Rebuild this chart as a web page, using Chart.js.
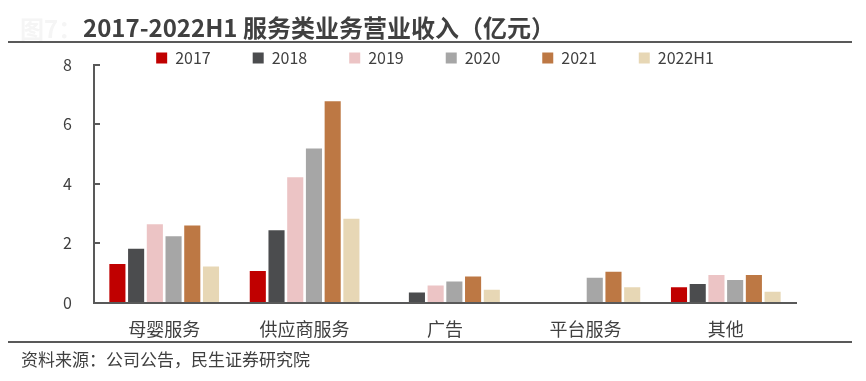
<!DOCTYPE html>
<html>
<head>
<meta charset="utf-8">
<script src="https://cdn.jsdelivr.net/npm/chart.js@4/dist/chart.umd.min.js"></script>
<style>
  html, body { margin: 0; padding: 0; background: #ffffff; }
  #wrap { position: relative; width: 866px; height: 381px; overflow: hidden; font-family: "Noto Sans CJK SC", sans-serif; }
  #chartBox { position: absolute; left: 0; top: 0; width: 866px; height: 381px; }
  .txt { position: absolute; white-space: nowrap; line-height: 1; }
  #ghost { left: 20px; top: 16px; font-size: 24px; font-weight: bold; color: #f5f5f5; }
  #title { left: 83px; top: 15px; font-size: 24px; font-weight: bold; color: #404040; }
  #footer { left: 21px; top: 350px; font-size: 17px; color: #404040; }
  .rule { position: absolute; left: 8px; width: 844px; height: 2px; background: #595959; }
</style>
</head>
<body>
<div id="wrap">
  <div id="chartBox"><canvas id="c"></canvas></div>
  <div class="txt" id="ghost">图7：</div>
  <div class="txt" id="title">2017-2022H1 服务类业务营业收入（亿元）</div>
  <div class="rule" style="top:41px"></div>
  <div class="rule" style="top:341px"></div>
  <div class="txt" id="footer">资料来源：公司公告，民生证券研究院</div>
</div>
<script>
const categories = ["母婴服务", "供应商服务", "广告", "平台服务", "其他"];
const seriesNames = ["2017", "2018", "2019", "2020", "2021", "2022H1"];
const series2017   = [1.30, 1.06, null, null, 0.51];
const series2018   = [1.81, 2.43, 0.34, null, 0.62];
const series2019   = [2.64, 4.22, 0.57, null, 0.93];
const series2020   = [2.23, 5.19, 0.71, 0.83, 0.76];
const series2021   = [2.59, 6.78, 0.88, 1.04, 0.93];
const series2022H1 = [1.21, 2.82, 0.43, 0.51, 0.36];
const yTicks = [0, 2, 4, 6, 8];

const seriesValues = [series2017, series2018, series2019, series2020, series2021, series2022H1];
const colors = ["#C00000", "#4B4C4E", "#ECC4C5", "#A6A6A6", "#BD7844", "#E7D7B5"];

const FONT = "'Noto Sans CJK SC', sans-serif";

const innerTicks = {
  id: "innerTicks",
  afterDraw(chart) {
    const y = chart.scales.y;
    const ctx = chart.ctx;
    const left = chart.chartArea.left;
    ctx.save();
    ctx.strokeStyle = "#595959";
    ctx.lineWidth = 2;
    yTicks.forEach(v => {
      const py = Math.round(y.getPixelForValue(v));
      ctx.beginPath();
      ctx.moveTo(left, py);
      ctx.lineTo(left + 6, py);
      ctx.stroke();
    });
    ctx.restore();
  }
};

new Chart(document.getElementById("c"), {
  type: "bar",
  data: {
    labels: categories,
    datasets: seriesNames.map((name, i) => ({
      label: name,
      data: seriesValues[i],
      backgroundColor: colors[i],
      borderWidth: 0,
      categoryPercentage: 0.8,
      barPercentage: 0.86
    }))
  },
  options: {
    responsive: true,
    maintainAspectRatio: false,
    animation: false,
    layout: { padding: { top: 8, left: 4, right: 0, bottom: 0 } },
    plugins: {
      title: { display: false },
      tooltip: { enabled: false },
      legend: {
        display: true,
        position: "top",
        align: "center",
        maxHeight: 57,
        labels: {
          boxWidth: 11,
          boxHeight: 11,
          padding: 42,
          color: "#404040",
          font: { family: FONT, size: 16 }
        }
      }
    },
    scales: {
      x: {
        grid: { display: false, drawTicks: false },
        border: { display: true, color: "#595959", width: 2 },
        ticks: { color: "#404040", padding: 16, font: { family: FONT, size: 18 }, maxRotation: 0 },
        afterFit(s) { s.height = 78.5; }
      },
      y: {
        min: 0,
        max: 8,
        afterBuildTicks(s) { s.ticks = yTicks.map(v => ({ value: v })); },
        grid: { display: true, drawOnChartArea: false, drawTicks: false },
        border: { display: true, color: "#595959", width: 2 },
        ticks: { color: "#404040", padding: 22, font: { family: FONT, size: 16 } },
        afterFit(s) { s.width = 90; }
      },
      yRightSpace: {
        position: "right",
        display: true,
        grid: { display: false, drawTicks: false },
        border: { display: false },
        ticks: { display: false },
        afterFit(s) { s.width = 70; }
      }
    }
  },
  plugins: [innerTicks]
});
</script>
</body>
</html>
